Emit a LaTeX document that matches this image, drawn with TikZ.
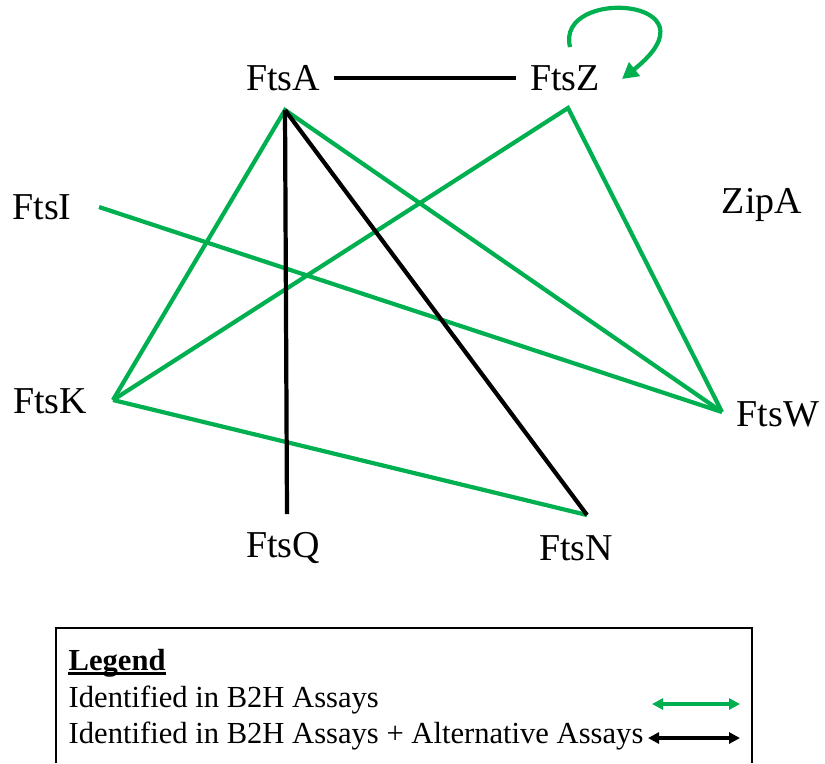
\documentclass[tikz,border=0pt]{standalone}
\usepackage{fontspec}
\setmainfont{Liberation Serif}
\usetikzlibrary{arrows.meta}
\definecolor{gruen}{HTML}{00B050}
\tikzset{
  prot/.style={font=\fontsize{10.8}{12}\selectfont,inner sep=2pt},
  b2h/.style={gruen,line width=1.2pt},
  alt/.style={black,line width=1.2pt},
  legtext/.style={font=\fontsize{8.7}{10}\selectfont,anchor=base west,inner sep=0pt},
  legpfeil/.style={{Triangle[length=1.1mm,width=1.1mm]}-{Triangle[length=1.1mm,width=1.1mm]},line width=1.2pt},
}

\begin{document}
\begin{tikzpicture}[x=0.01cm,y=-0.01cm]
  \useasboundingbox (0,0) rectangle (825,763);
  % Proteine
  \node[prot] (ftsA) at (283,78) {FtsA};
  \node[prot] (ftsZ) at (565,78) {FtsZ};
  \node[prot] (ftsI) at (42,207) {FtsI};
  \node[prot] (zipA) at (762,205) {ZipA};
  \node[prot] (ftsK) at (50,401) {FtsK};
  \node[prot] (ftsW) at (778,414) {FtsW};
  \node[prot] (ftsQ) at (283,548) {FtsQ};
  \node[prot] (ftsN) at (576,548) {FtsN};
  % Endpunkte der Linien
  \coordinate (pA) at (285,110);
  \coordinate (pZ) at (568,108);
  \coordinate (pI) at (99,207);
  \coordinate (pK) at (113,400);
  \coordinate (pW) at (722,412);
  \coordinate (pQ) at (287,514);
  \coordinate (pN) at (587,515);
  \coordinate (loopS) at (570,47);
  \coordinate (loopE) at (622,79);
  % B2H
  \draw[b2h] (pK) -- (pA) -- (pW);
  \draw[b2h] (pK) -- (pZ) -- (pW);
  \draw[b2h] (pI) -- (pW);
  \draw[b2h] (pK) -- (pN);
  \draw[b2h,-{Triangle[length=1.6mm,width=1.7mm]}] (loopS) .. controls (555,-14) and (724,-2) .. (loopE);
  % B2H + alternative
  \draw[alt,shorten <=1.8pt,shorten >=1.8pt] (ftsA) -- (ftsZ);
  \draw[alt] (pA) -- (pQ);
  \draw[alt] (pA) -- (pN);
  % Legende
  \draw[line width=0.8pt] (56,763) -- (56,628) -- (752,628) -- (752,763);
  \node[legtext] (legK) at (68,670) {\textbf{Legend}};
  \draw[line width=0.8pt] ([yshift=-1pt]legK.base west) -- ([yshift=-1pt]legK.base east);
  \node[legtext] (leg1) at (68,707) {Identified in B2H Assays};
  \node[legtext] (leg2) at (68,743) {Identified in B2H Assays + Alternative Assays};
  \coordinate (g1) at (652,704);
  \coordinate (g2) at (740,704);
  \coordinate (s1) at (648,738);
  \coordinate (s2) at (740,738);
  \draw[legpfeil,gruen] (g1) -- (g2);
  \draw[legpfeil] (s1) -- (s2);
\end{tikzpicture}
\end{document}
